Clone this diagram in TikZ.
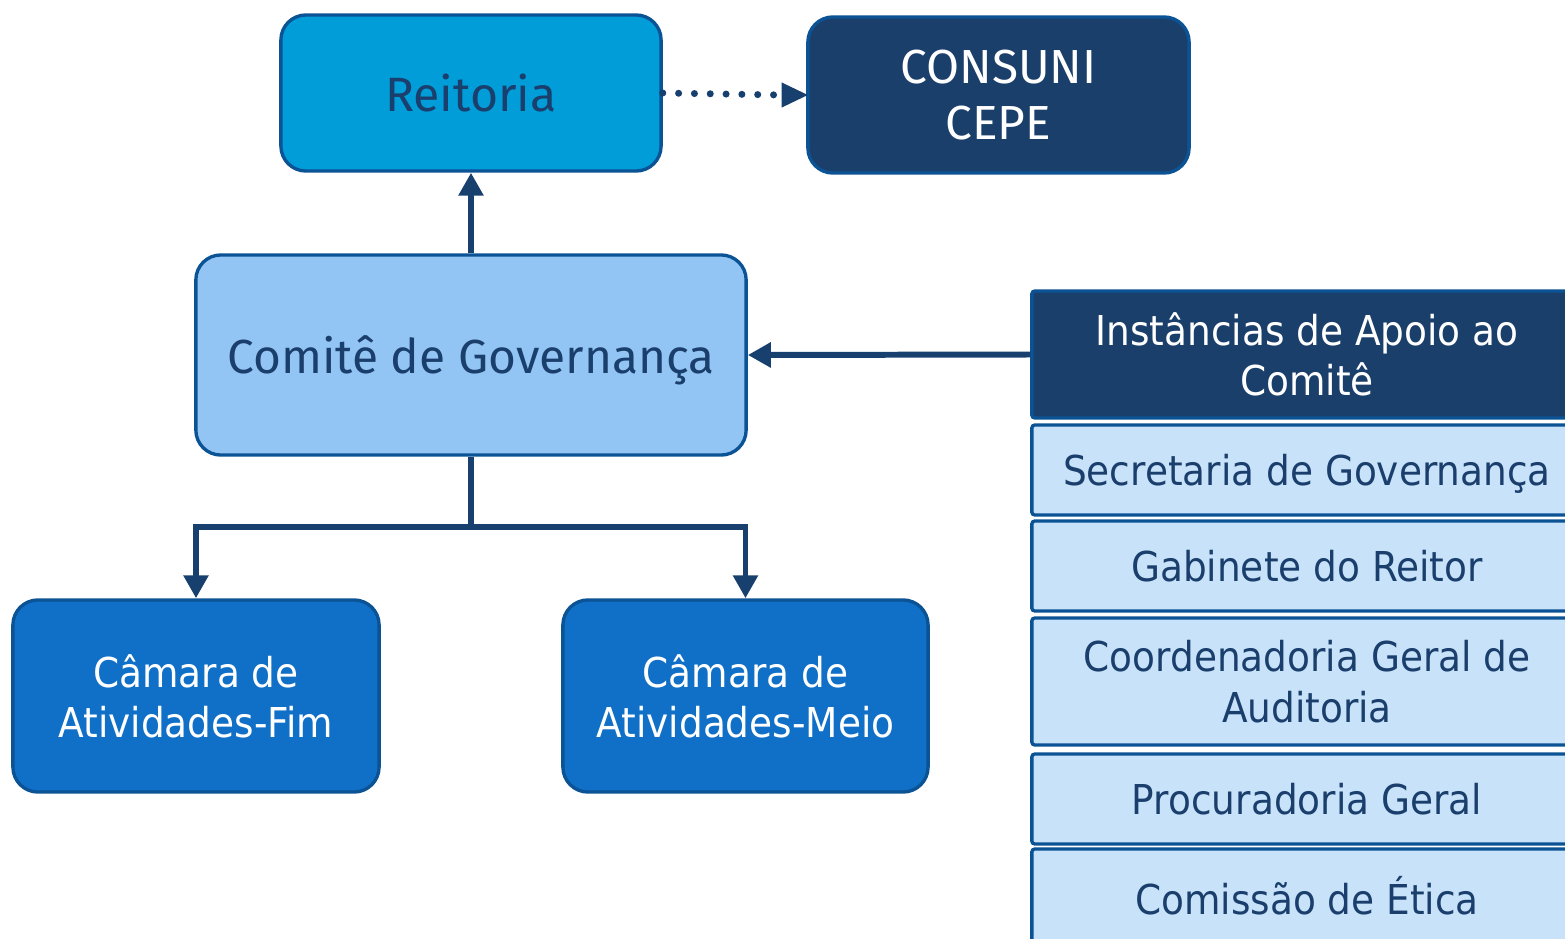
\documentclass[tikz,border=0pt]{standalone}
\usepackage{fontspec}
\setmainfont{DejaVu Sans}
\newfontfamily\tah[FakeStretch=0.91]{DejaVu Sans}
\newfontfamily\fira{Fira Sans}
\usetikzlibrary{arrows.meta}
\definecolor{cReit}{RGB}{0,157,217}
\definecolor{cBorder}{RGB}{11,83,148}
\definecolor{cNavy}{RGB}{27,63,107}
\definecolor{cLine}{RGB}{24,64,110}
\definecolor{cComite}{RGB}{146,197,244}
\definecolor{cCamara}{RGB}{16,111,199}
\definecolor{cLight}{RGB}{200,226,249}
\definecolor{cText}{RGB}{27,63,109}
\tikzset{
  rbox/.style={draw=cBorder, line width=0.95pt, rounded corners=0.25cm, align=center, inner sep=0pt},
  sbox/.style={draw=cBorder, line width=0.95pt, rounded corners=0.03cm, align=center, inner sep=0pt,
    minimum width=5.5cm},
  conn/.style={draw=cLine, line width=1.7pt},
  tip/.style={-{Triangle[length=0.23cm,width=0.24cm]}},
}
\begin{document}
\begin{tikzpicture}[x=0.01cm,y=-0.01cm]
\useasboundingbox (0,0) rectangle (1565,939);
\clip (0,0) rectangle (1565,939);
% top row
\node[rbox, fill=cReit, minimum width=3.8cm, minimum height=1.56cm,
  font=\fira\fontsize{13.7}{16}\selectfont, text=cText] (reit) at (471,93) {Reitoria};
\node[rbox, fill=cNavy, minimum width=3.81cm, minimum height=1.56cm,
  font=\fira\fontsize{13.6}{15.9}\selectfont, text=white] (cons) at (998.5,95) {CONSUNI\\CEPE};
% comite
\node[rbox, fill=cComite, minimum width=5.5cm, minimum height=2.0cm, text depth=0pt,
  font=\fira\fontsize{13.6}{16}\selectfont, text=cText] (comite) at (471,355) {Comitê de Governança};
% camaras
\node[rbox, fill=cCamara, minimum width=3.66cm, minimum height=1.92cm,
  font=\tah\fontsize{11.7}{14.2}\selectfont, text=white] (fim) at (196,696) {Câmara de\\Atividades-Fim};
\node[rbox, fill=cCamara, minimum width=3.65cm, minimum height=1.92cm,
  font=\tah\fontsize{11.7}{14.2}\selectfont, text=white] (meio) at (745.5,696) {Câmara de\\Atividades-Meio};
% right column
\begin{scope}[every node/.append style={font=\tah\fontsize{11.7}{14.4}\selectfont}]
\node[sbox, fill=cNavy, minimum height=1.27cm, text=white] (inst) at (1307,354.5) {Instâncias de Apoio ao\\Comitê};
\node[sbox, fill=cLight, minimum height=0.90cm, text=cText, text depth=0pt] (sec) at (1307,470) {Secretaria de Governança};
\node[sbox, fill=cLight, minimum height=0.90cm, text=cText] (gab) at (1307,566) {Gabinete do Reitor};
\node[sbox, fill=cLight, minimum height=1.27cm, text=cText] (coord) at (1307,681.5) {Coordenadoria Geral de\\Auditoria};
\node[sbox, fill=cLight, minimum height=0.90cm, text=cText] (proc) at (1307,799) {Procuradoria Geral};
\node[sbox, fill=cLight, minimum height=0.94cm, text=cText] (etica) at (1307,896) {Comissão de Ética};
\end{scope}
% connectors
\draw[draw=cLine, line width=2pt, line cap=round, dash pattern=on 0pt off 4.5pt]
  (reit.east) -- ([xshift=-0.24cm]cons.west);
\draw[draw=cLine, fill=cLine] ([xshift=-0.24cm,yshift=0.115cm]cons.west) -- (cons.west) -- ([xshift=-0.24cm,yshift=-0.115cm]cons.west) -- cycle;
\draw[conn, tip] (comite.north) -- (reit.south);
\draw[conn, tip] (inst.west) -- (comite.east);
\coordinate (j) at (471,527);
\draw[conn, tip] (comite.south) -- (j) -| (fim.north);
\draw[conn, tip] (j) -| (meio.north);
\end{tikzpicture}
\end{document}
